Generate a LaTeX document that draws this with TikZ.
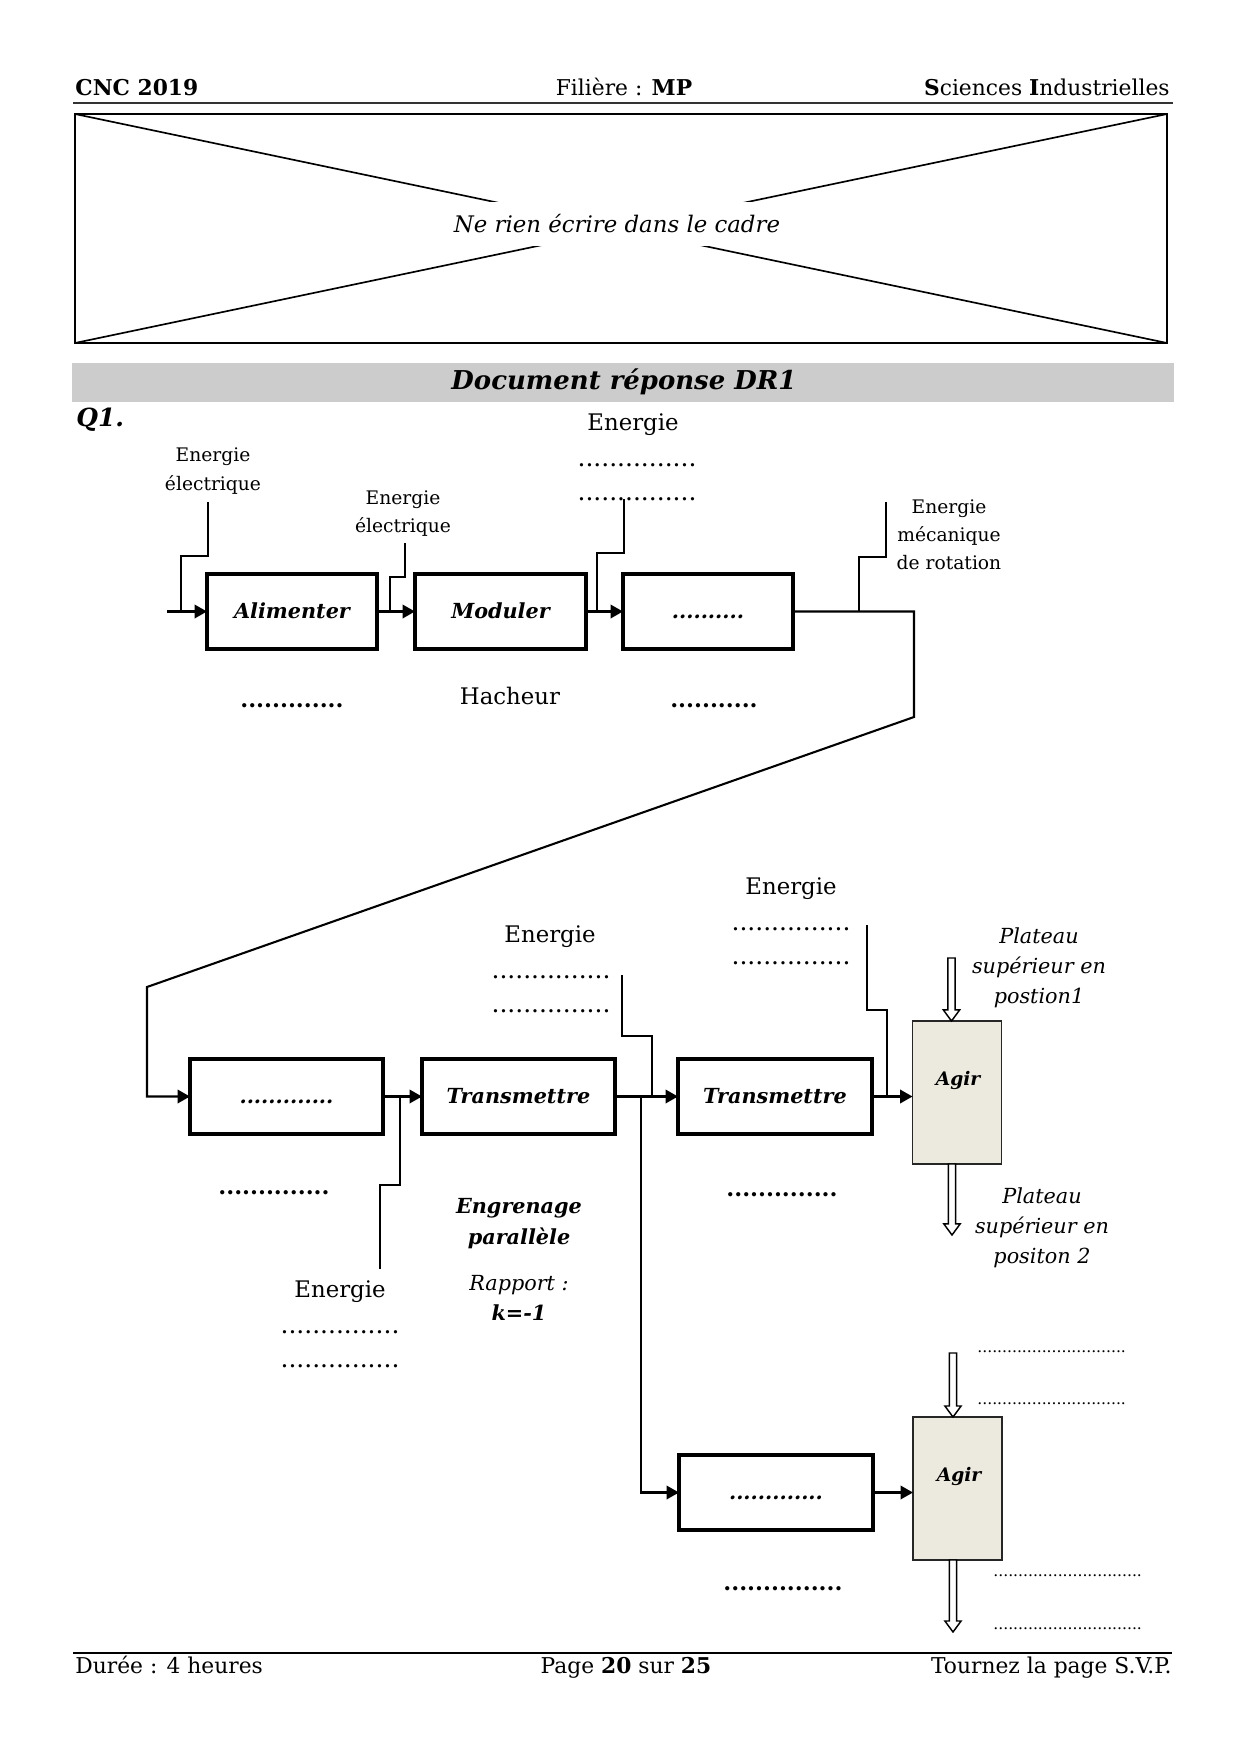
\documentclass[tikz,border=0pt]{standalone}
\usepackage{fontspec}
\setmainfont{DejaVu Serif}
\usetikzlibrary{arrows.meta,calc}
\definecolor{agirfill}{RGB}{236,233,222}
\definecolor{bannergray}{RGB}{204,204,204}
\newcommand\hollowdown[2]{%
  \draw[hollowarr] let \p1=(#1), \p2=(#2) in
    (\x2-1.7bp,\y1) -- (\x2-1.7bp,\y2+5.3bp) -- (\x2-3.9bp,\y2+5.3bp) -- (\x2,\y2)
    -- (\x2+3.9bp,\y2+5.3bp) -- (\x2+1.7bp,\y2+5.3bp) -- (\x2+1.7bp,\y1) -- cycle;}
\begin{document}
\begin{tikzpicture}[x=0.48bp,y=-0.48bp,
  blk/.style={draw, line width=1.6pt, minimum height=75*0.48bp, inner sep=0pt, outer sep=0pt,
    text height=1.5ex, text depth=0.25ex, font=\bfseries\itshape\fontsize{10}{12}\selectfont},
  agirbox/.style={draw=black!85, fill=agirfill, line width=0.8pt, minimum width=89*0.48bp,
    minimum height=143*0.48bp, inner sep=0pt, outer sep=0pt},
  agirtxt/.style={inner sep=0pt, font=\bfseries\itshape\fontsize{9}{11}\selectfont},
  conn/.style={line width=0.75pt},
  arr/.style={line width=1pt, -{Triangle[length=6bp,width=6.5bp]}},
  hollowarr/.style={line width=0.7pt, fill=white},
  lbl/.style={inner sep=0pt, align=center, font=\fontsize{9}{13.6}\selectfont},
  big/.style={inner sep=0pt, font=\fontsize{11}{13}\selectfont},
  dotsr/.style={inner sep=0pt, font=\fontsize{12}{13}\selectfont},
  dotsb/.style={inner sep=0pt, font=\bfseries\fontsize{11}{13}\selectfont},
  dotss/.style={inner sep=0pt, anchor=west, font=\fontsize{7.5}{9}\selectfont},
  itlbl/.style={inner sep=0pt, align=center, font=\itshape\fontsize{10}{14.4}\selectfont},
  hdr/.style={inner sep=0pt, font=\fontsize{10.5}{12}\selectfont}
]
\useasboundingbox (0,0) rectangle (1240,1754);
\fill[white] (0,0) rectangle (1240,1754);

% ---- header ----
\node[hdr, anchor=base west] (h1) at (75,95) {\textbf{CNC 2019}};
\node[hdr, anchor=base] (h2) at (624,95) {Filière : \textbf{MP}};
\node[hdr, anchor=base east] (h3) at (1170,95) {\textbf{S}ciences \textbf{I}ndustrielles};
\draw[line width=1pt, black!80] (73,103) -- (1173,103);

% ---- frame ----
\draw[line width=1pt] (75,114) rectangle (1167,343);
\draw[line width=0.8pt] (75,114) -- (1167,343);
\draw[line width=0.8pt] (75,343) -- (1167,114);
\node[fill=white, inner sep=0pt, minimum width=370*0.48bp, minimum height=44*0.48bp,
  font=\itshape\fontsize{11}{13}\selectfont] (cadre) at (617,224) {Ne rien écrire dans le cadre};

% ---- banner ----
\fill[bannergray] (72,363) rectangle (1174,402);
\node[inner sep=0pt, font=\bfseries\itshape\fontsize{12.5}{14}\selectfont] (dr1) at (624,382) {Document réponse DR1};
\node[inner sep=0pt, anchor=west, font=\bfseries\itshape\fontsize{12}{14}\selectfont] (q1) at (76,420) {Q1.};

% ---- top row ----
\node[blk, minimum width=170*0.48bp] (alim) at (292,611.5) {Alimenter};
\node[blk, minimum width=171*0.48bp] (mod) at (500.5,611.5) {Moduler};
\node[blk, minimum width=170*0.48bp] (conv) at (708,611.5) {..........};

\node[lbl] (lab1) at (213,471) {Energie\\électrique};
\node[lbl] (lab2) at (403,513.5) {Energie\\électrique};
\node[big] (lab3) at (633,425) {Energie};
\node[dotsr] (lab3a) at (637,465) {...............};
\node[dotsr] (lab3b) at (637,499) {...............};
\node[lbl] (lab4) at (949,535) {Energie\\mécanique\\de rotation};

\node[dotsb] (u1) at (292,706) {.............};
\node[big] (hach) at (510,696) {Hacheur};
\node[dotsb] (u3) at (714,706) {...........};

\coordinate (in0) at (167,611.5);
\coordinate (l1a) at (208,502);
\coordinate (l2a) at (405,543);
\coordinate (l3a) at (624,499);
\coordinate (l4a) at (886,502);
\coordinate (bend) at (147,987);

\draw[arr] (in0) -- (alim.west);
\draw[conn] (l1a) -- ++(0,54) -| ($(alim.west)+(-26,0)$);
\draw[arr] (alim) -- (mod);
\draw[conn] (l2a) -- ++(0,34) -| ($(mod.west)+(-25,0)$);
\draw[arr] (mod) -- (conv);
\draw[conn] (l3a) -- ++(0,54) -| ($(conv.west)+(-26,0)$);
\draw[conn] (l4a) -- ++(0,55) -| ($(conv.east)+(66,0)$);

% ---- lower row ----
\node[blk, minimum width=193*0.48bp] (b4) at (286.5,1096.5) {.............};
\node[blk, minimum width=193*0.48bp] (tr1) at (518.5,1096.5) {Transmettre};
\node[blk, minimum width=194*0.48bp] (tr2) at (775,1096.5) {Transmettre};
\node[agirbox] (ag1) at (957,1092.5) {};
\node[agirtxt] (ag1t) at (958,1080) {Agir};

\draw[arr] (conv.east) -- ++(121,0) -- ++(0,105.5) -- (bend) |- (b4.west);

\node[big] (e5) at (550,937) {Energie};
\node[dotsr] (e5a) at (551,977) {...............};
\node[dotsr] (e5b) at (551,1011) {...............};
\node[big] (e6) at (791,889) {Energie};
\node[dotsr] (e6a) at (791,929) {...............};
\node[dotsr] (e6b) at (791,963) {...............};
\node[big] (e7) at (340,1292) {Energie};
\node[dotsr] (e7a) at (340,1332) {...............};
\node[dotsr] (e7b) at (340,1366) {...............};

\node[dotsb] (u4) at (274,1193) {..............};
\node[inner sep=0pt, align=center, font=\bfseries\itshape\fontsize{10}{14.9}\selectfont] (eng) at (519,1223.5) {Engrenage\\parallèle};
\node[inner sep=0pt, align=center, font=\itshape\fontsize{10}{14.4}\selectfont] (rap) at (519,1298) {Rapport :\\\textbf{k=-1}};
\node[dotsb] (u6) at (782,1195) {..............};

\node[itlbl] (pl1) at (1039,968) {Plateau\\supérieur en\\postion1};
\node[itlbl] (pl2) at (1042,1228) {Plateau\\supérieur en\\positon 2};

\coordinate (l5a) at (380,1269);
\coordinate (l6a) at (622,975);
\coordinate (l7a) at (867,925);

\draw[arr] (b4) -- (tr1);
\draw[conn] (l5a) -- ++(0,-84) -| ($(b4.east)+(17,0)$);
\draw[arr] (tr1) -- (tr2);
\draw[conn] (l6a) -- ++(0,61) -| ($(tr1.east)+(37,0)$);
\draw[arr] (tr2.east) -- (tr2.east -| ag1.west);
\draw[conn] (l7a) -- ++(0,85) -| ($(tr2.east)+(15,0)$);

% ---- bottom branch ----
\node[blk, minimum width=194*0.48bp] (b5) at (776,1492.5) {.............};
\node[agirbox] (ag2) at (957.5,1488.5) {};
\node[agirtxt] (ag2t) at (959,1476) {Agir};
\draw[arr] ($(tr1.east)+(26,0)$) |- (b5.west);
\draw[arr] (b5.east) -- (b5.east -| ag2.west);
\node[dotsb] (u5) at (783,1589) {...............};

\node[dotss] (s1) at (977,1352) {..............................};
\node[dotss] (s2) at (977,1404) {..............................};
\node[dotss] (s3) at (993,1576) {..............................};
\node[dotss] (s4) at (993,1629) {..............................};

% hollow arrows
\coordinate (h1s) at (951.5,958);
\coordinate (h2e) at (952,1235);
\coordinate (h3s) at (953,1353);
\coordinate (h4e) at (953,1632);
\hollowdown{h1s}{h1s |- ag1.north}
\hollowdown{h2e |- ag1.south}{h2e}
\hollowdown{h3s}{h3s |- ag2.north}
\hollowdown{h4e |- ag2.south}{h4e}

% ---- footer ----
\draw[line width=1.3pt] (73,1653) -- (1172,1653);
\node[hdr, anchor=base west] (f1) at (75,1673) {Durée : 4 heures};
\node[hdr, anchor=base] (f2) at (626,1673) {Page \textbf{20} sur \textbf{25}};
\node[hdr, anchor=base east] (f3) at (1172,1673) {Tournez la page S.V.P.};
\end{tikzpicture}
\end{document}
